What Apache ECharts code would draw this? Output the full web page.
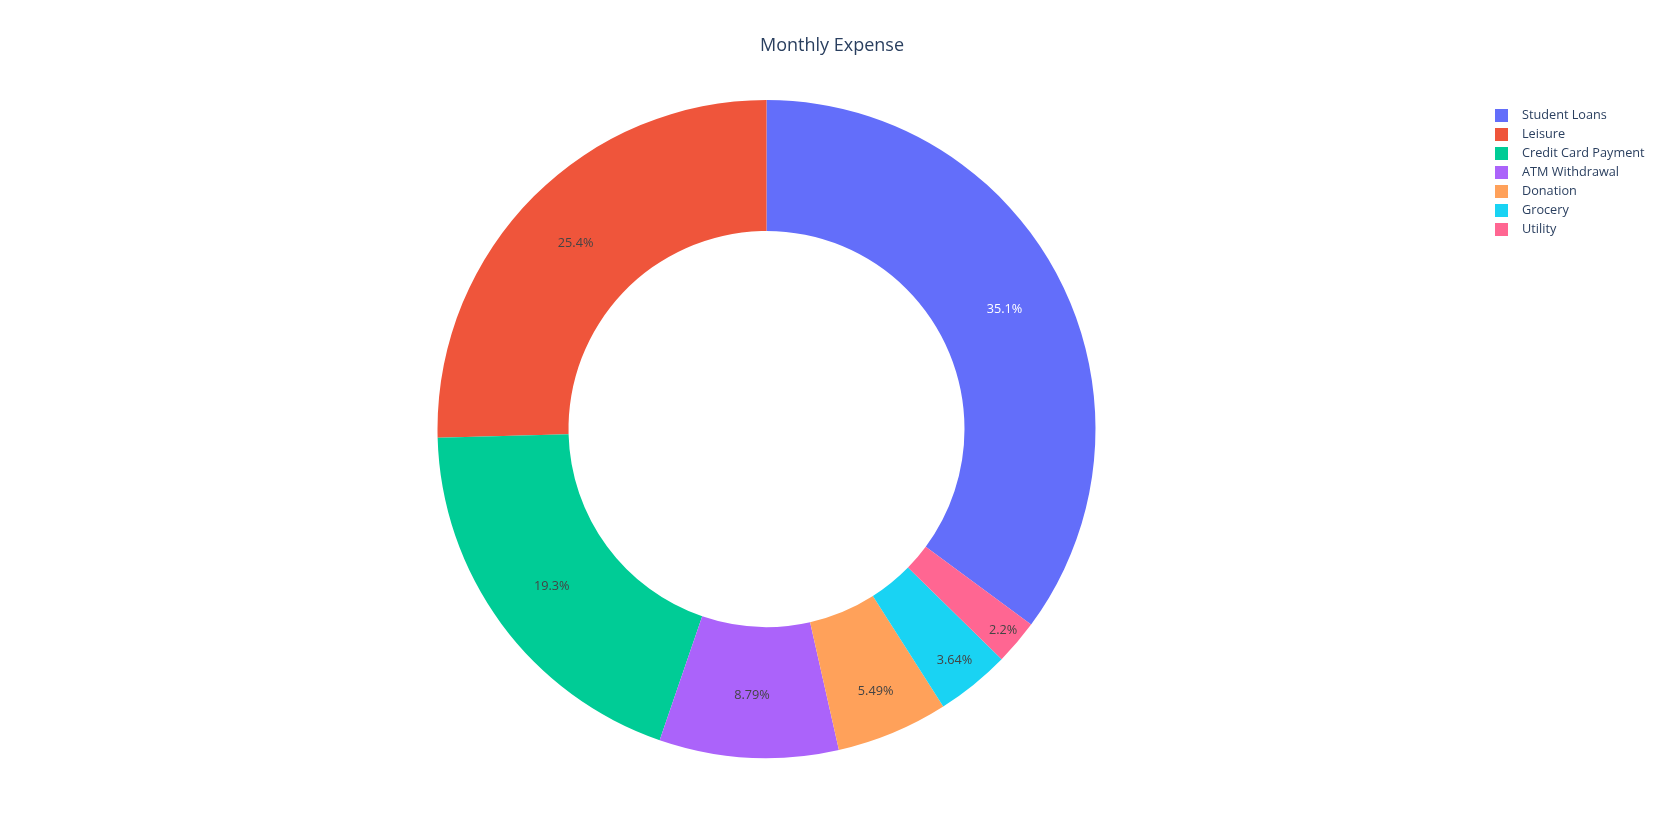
<!DOCTYPE html>
<html>
<head>
<meta charset="utf-8">
<script src="https://cdn.jsdelivr.net/npm/echarts@6/dist/echarts.min.js"></script>
<style>
html,body{margin:0;padding:0;background:#fff;}
#chart{width:1664px;height:837px;}
</style>
</head>
<body>
<div id="chart"></div>
<script>
const categories = ['Student Loans','Leisure','Credit Card Payment','ATM Withdrawal','Donation','Grocery','Utility'];
const shares = [35.1, 25.4, 19.3, 8.79, 5.49, 3.64, 2.2];
const colors = ['#636efa','#EF553B','#00cc96','#ab63fa','#FFA15A','#19d3f3','#FF6692'];
const labelColors = ['#ffffff','#444444','#444444','#444444','#444444','#444444','#444444'];

const FONT = '"Open Sans", verdana, arial, sans-serif';
const CENTER = [766.5, 429];
const R_IN = 198, R_OUT = 329;
const total = shares.reduce((a, b) => a + b, 0);
// counterclockwise layout: first slice ends at 12 o'clock
const startAngle = 90 - shares[0] / total * 360;

// inside-text placement like plotly: centre of the largest circle inscribed in the slice
function labelOffset(i) {
  let cum = 0;
  for (let k = 0; k < i; k++) cum += shares[k];
  const span = shares[i] / total * 2 * Math.PI;
  const mid = startAngle * Math.PI / 180 + (cum / total) * 2 * Math.PI + span / 2;
  const half = span / 2;
  const midR = (R_IN + R_OUT) / 2;
  let d = midR;
  if (half < Math.PI / 2) {
    const s = Math.sin(half);
    const rho = R_OUT * s / (1 + s);
    if (rho < (R_OUT - R_IN) / 2) d = R_OUT / (1 + s);
  }
  const shift = d - midR;
  return [shift * Math.cos(mid), -shift * Math.sin(mid)];
}

const chart = echarts.init(document.getElementById('chart'), null, {renderer:'canvas'});
chart.setOption({
  animation: false,
  backgroundColor: '#ffffff',
  title: {
    text: 'Monthly Expense',
    left: 'center',
    top: 32,
    textStyle: {fontFamily: FONT, fontSize: 18, fontWeight: 'normal', color: '#2a3f5f'}
  },
  legend: {
    orient: 'vertical',
    left: 1495,
    top: 109,
    padding: 0,
    itemWidth: 13,
    itemHeight: 13,
    itemGap: 6,
    icon: 'rect',
    selectedMode: false,
    data: categories,
    textStyle: {fontFamily: FONT, fontSize: 12.7, color: '#2a3f5f', padding: [0,0,0,9]}
  },
  series: [{
    type: 'pie',
    center: CENTER,
    radius: [R_IN, R_OUT],
    startAngle: startAngle,
    clockwise: false,
    avoidLabelOverlap: false,
    emphasis: {disabled: true},
    itemStyle: {borderWidth: 0},
    label: {
      show: true,
      position: 'inside',
      fontFamily: FONT,
      fontSize: 12.7,
      formatter: p => p.value + '%'
    },
    labelLine: {show: false},
    data: categories.map((c, i) => ({
      name: c,
      value: shares[i],
      itemStyle: {color: colors[i]},
      label: {color: labelColors[i], offset: labelOffset(i)}
    }))
  }]
});
</script>
</body>
</html>
